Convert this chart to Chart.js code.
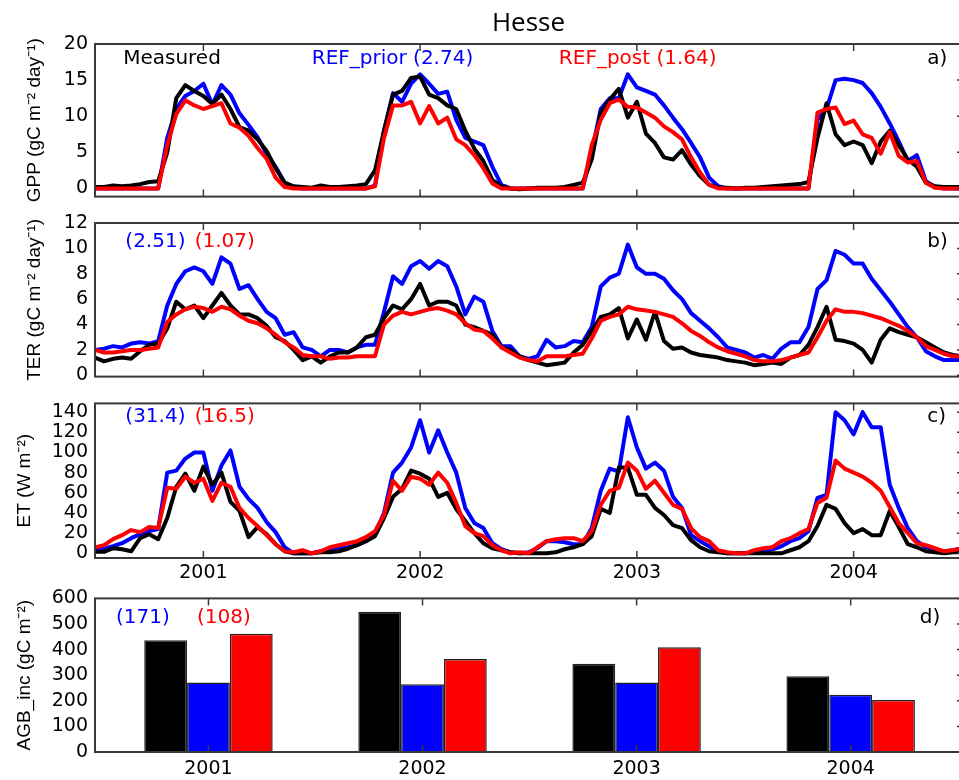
<!DOCTYPE html>
<html>
<head>
<meta charset="utf-8">
<title>Hesse</title>
<script src="https://cdn.jsdelivr.net/npm/chart.js@4.4.1/dist/chart.umd.min.js"></script>
<style>
  html, body { margin: 0; padding: 0; background: #fff; overflow: hidden; }
  body { position: relative; width: 959px; height: 780px; }
  canvas { position: absolute; left: 0; }
</style>
</head>
<body>
<canvas id="gpp-chart" width="962" height="215" style="top:0"></canvas>
<canvas id="ter-chart" width="962" height="200" style="top:195px"></canvas>
<canvas id="et-chart" width="962" height="200" style="top:385px"></canvas>
<canvas id="agb-chart" width="962" height="200" style="top:580px"></canvas>
<script>
// time axis: half-month steps from mid 2000
const startYear = 2000.5;
const stepYears = 1 / 24;
const yearTicks = [2001, 2002, 2003, 2004];

// GPP (gC m-2 day-1)
const gppMeasured = [
  0.2, 0.2, 0.4, 0.3, 0.4, 0.6, 0.9, 1.0, 5.0, 12.5, 14.3, 13.5,
  12.8, 11.7, 13.0, 11.0, 8.5, 8.0, 6.8, 5.2, 2.8, 0.8, 0.3, 0.2,
  0.1, 0.4, 0.2, 0.2, 0.3, 0.4, 0.6, 2.5, 8.0, 13.0, 13.5, 15.3,
  15.5, 13.0, 12.5, 11.5, 11.0, 8.0, 5.5, 3.8, 1.2, 0.3, 0.0, -0.1,
  0.0, 0.1, 0.1, 0.1, 0.2, 0.5, 0.8, 4.0, 10.5, 12.3, 13.8, 9.8,
  12.0, 7.6, 6.3, 4.3, 4.0, 5.3, 3.3, 1.7, 0.5, 0.1, 0.1, 0.0,
  0.1, 0.1, 0.2, 0.3, 0.4, 0.5, 0.6, 0.9, 7.0, 11.8, 7.5, 6.0,
  6.5, 6.0, 3.5, 6.5, 8.0, 6.0, 4.0, 3.0, 0.8, 0.3, 0.2, 0.2,
  0.2
];
const gppPrior = [
  0, 0, 0, 0, 0, 0, 0, 0, 7.0, 11.0, 12.8, 13.5,
  14.5, 11.6, 14.3, 13.0, 10.4, 8.8, 7.1, 4.8, 3.0, 0.8, 0.1, 0,
  0, 0, 0, 0, 0, 0, 0, 0.4, 8.0, 13.2, 12.0, 14.5,
  15.8, 14.5, 13.1, 13.4, 9.5, 7.0, 6.5, 6.0, 3.0, 0.5, 0, 0,
  0, 0, 0, 0, 0, 0, 0, 5.0, 11.0, 12.5, 12.5, 15.8,
  14.0, 13.5, 13.0, 11.5, 9.8, 8.2, 6.3, 4.3, 1.5, 0.3, 0, 0,
  0, 0, 0, 0, 0, 0, 0, 0, 9.5, 11.0, 15.0, 15.2,
  15.0, 14.6, 13.2, 11.3, 9.0, 6.5, 3.8, 4.6, 1.0, 0.2, 0, 0,
  0
];
const gppPost = [
  0, 0, 0, 0, 0, 0, 0, 0, 6.0, 10.3, 12.2, 11.5,
  11.0, 11.4, 11.8, 9.0, 8.4, 7.3, 5.6, 4.1, 1.5, 0.2, 0, 0,
  0, 0, 0, 0, 0, 0, 0, 0.3, 7.0, 11.5, 11.5, 12.0,
  9.0, 11.4, 9.0, 9.8, 6.8, 6.0, 4.6, 2.8, 0.7, 0, 0, 0,
  0, 0, 0, 0, 0, 0, 0, 6.0, 9.5, 11.8, 12.3, 11.3,
  11.2, 10.5, 9.8, 8.6, 7.8, 6.8, 4.3, 2.2, 0.5, 0, 0, 0,
  0, 0, 0, 0, 0, 0, 0, 0, 10.5, 11.0, 11.2, 8.9,
  9.4, 7.5, 7.0, 4.8, 7.8, 4.5, 3.6, 3.8, 0.8, 0.1, 0, 0,
  0
];

// TER (gC m-2 day-1)
const terMeasured = [
  1.4, 1.1, 1.3, 1.4, 1.3, 1.9, 2.4, 2.5, 3.7, 5.8, 5.2, 5.5,
  4.5, 5.5, 6.5, 5.5, 4.8, 4.8, 4.5, 3.9, 3.0, 2.7, 2.0, 1.2,
  1.5, 1.0, 1.5, 1.8, 1.8, 2.2, 3.0, 3.2, 4.5, 5.5, 5.2, 6.0,
  7.2, 5.5, 5.8, 5.8, 5.5, 4.0, 3.8, 3.5, 3.2, 2.2, 2.0, 1.5,
  1.2, 1.0, 0.8, 0.9, 1.0, 1.8, 2.4, 3.5, 4.6, 4.8, 5.3, 2.9,
  4.4, 2.8, 5.0, 2.7, 2.1, 2.2, 1.8, 1.6, 1.5, 1.4, 1.2, 1.1,
  1.0, 0.8, 0.9, 1.0, 0.9, 1.4, 1.6, 2.4, 3.8, 5.4, 2.8, 2.7,
  2.5, 2.0, 1.0, 2.8, 3.7, 3.4, 3.2, 3.0, 2.6, 2.2, 1.8, 1.6,
  1.5
];
const terPrior = [
  2.0, 2.1, 2.3, 2.2, 2.5, 2.6, 2.5, 2.7, 5.5, 7.2, 8.2, 8.5,
  8.2, 7.2, 9.3, 8.8, 6.8, 7.1, 6.0, 5.0, 4.5, 3.2, 3.4, 2.2,
  2.0, 1.5, 2.0, 2.0, 1.8, 2.2, 2.4, 2.4, 5.0, 7.8, 7.2, 8.6,
  9.0, 8.4, 9.0, 8.6, 7.0, 4.8, 6.2, 5.8, 3.5, 2.3, 2.3, 1.5,
  1.3, 1.5, 2.8, 2.2, 2.3, 2.7, 2.6, 3.8, 7.0, 7.7, 8.0, 10.3,
  8.5, 8.0, 8.0, 7.6, 6.7, 6.0, 4.9, 4.3, 3.7, 3.0, 2.2, 2.0,
  1.8, 1.4, 1.6, 1.3, 2.1, 2.6, 2.6, 3.8, 6.8, 7.5, 9.8, 9.5,
  8.8, 8.8, 7.6, 6.7, 5.8, 4.8, 3.8, 3.0, 1.9, 1.5, 1.2, 1.2,
  1.2
];
const terPost = [
  2.0, 1.8, 1.8, 1.9, 2.0, 2.0, 2.1, 2.2, 4.2, 4.8, 5.2, 5.4,
  5.3, 5.0, 5.4, 5.2, 4.7, 4.3, 4.1, 3.7, 3.2, 2.6, 2.2, 1.6,
  1.5, 1.5, 1.3, 1.4, 1.4, 1.5, 1.5, 1.5, 4.0, 4.7, 5.0, 4.8,
  5.0, 5.2, 5.3, 5.1, 4.8, 4.1, 3.6, 3.5, 2.9, 2.2, 1.8, 1.4,
  1.2, 1.1, 1.5, 1.5, 1.5, 1.6, 1.7, 2.9, 4.3, 4.6, 4.8, 5.4,
  5.2, 5.1, 5.0, 4.8, 4.6, 4.1, 3.5, 3.1, 2.6, 2.2, 1.9, 1.7,
  1.5, 1.2, 1.1, 1.1, 1.2, 1.4, 1.6, 1.8, 3.0, 4.3, 5.2, 5.0,
  5.0, 4.9, 4.7, 4.5, 4.2, 3.9, 3.5, 3.0, 2.3, 2.0, 1.7, 1.5,
  1.5
];

// ET (W m-2)
const etMeasured = [
  1.5, 1.5, 5, 4, 2, 15, 19, 14, 35, 66, 79, 62,
  86, 68, 80, 51, 42, 16, 26, 19, 9, 2, 0, 0,
  0, 1, 1, 2, 4.5, 8, 12, 17, 35, 56, 64, 82,
  79, 74, 56, 60, 44, 32, 20, 10, 5, 3, 1, 0,
  0, 0, 0, 1, 4, 6, 9, 17, 44, 40, 85, 85,
  58, 58, 45, 38, 28, 25, 13, 6, 2, 1, 0, 0,
  0, 0, 0, 0, 0, 3, 6, 12, 27, 48, 44, 30,
  20, 24, 18, 18, 42, 26, 9, 6, 2, 1, 0, 1,
  1
];
const etPrior = [
  4.5, 4.5, 7, 10, 15, 19, 22, 24, 80, 82, 94, 100,
  100, 62, 87, 102, 66, 54, 45, 31, 21, 6, 0, 0,
  0, 2, 4, 5, 6, 8, 12, 20, 40, 80, 90, 105,
  132, 100, 122, 100, 80, 45, 30, 25, 10, 4, 1, 0,
  1, 5, 12, 12, 11, 9, 9, 25, 62, 84, 81, 135,
  105, 84, 90, 82, 56, 45, 18, 12, 7, 2, 0, 0,
  0, 1, 2, 4, 7, 12, 15, 22, 55, 58, 140, 132,
  118, 140, 125, 125, 68, 45, 25, 12, 6, 4, 2, 3,
  5
];
const etPost = [
  6, 8, 14, 18, 23, 21, 26, 25, 65, 64, 76, 70,
  74, 52, 70, 66, 45, 35, 27, 18, 9, 2, 1, 3,
  0, 2, 6, 8, 10, 12, 16, 22, 38, 72, 62, 76,
  74, 68, 80, 70, 50, 27, 20, 17, 8, 3, 0, 1,
  0, 6, 12, 14, 15, 15, 12, 22, 48, 62, 65, 90,
  82, 64, 72, 60, 48, 44, 25, 16, 12, 3, 1, 0,
  0, 3, 5, 6, 12, 15, 20, 24, 50, 55, 92, 84,
  80, 76, 70, 62, 46, 30, 20, 10, 8, 5, 2, 3,
  5
];

// AGB_inc (gC m-2), yearly
const agbYears = [2001, 2002, 2003, 2004];
const agbMeasured = [437, 548, 345, 296];
const agbPrior = [271, 265, 271, 224];
const agbPost = [462, 363, 409, 203];

const gppTicks = [0, 5, 10, 15, 20];
const terTicks = [0, 2, 4, 6, 8, 10, 12];
const etTicks = [0, 20, 40, 60, 80, 100, 120, 140];
const agbTicks = [0, 100, 200, 300, 400, 500, 600];

const BLACK = '#000000';
const BLUE = '#0000ff';
const RED = '#ff0000';
const FRAME = '#3a3a3a';

Chart.defaults.animation = false;
Chart.defaults.color = '#000';
Chart.defaults.font.family = '"DejaVu Sans", sans-serif';
Chart.defaults.plugins.legend.display = false;
Chart.defaults.plugins.tooltip.enabled = false;
Chart.defaults.elements.point.radius = 0;
Chart.defaults.elements.line.borderWidth = 4;
Chart.defaults.elements.line.borderJoinStyle = 'round';
Chart.defaults.elements.line.borderCapStyle = 'round';

// box round the plot with inward ticks
const framePlugin = {
  id: 'frame',
  afterDatasetsDraw(chart) {
    const { ctx, chartArea: a, scales: { x, y } } = chart;
    ctx.save();
    ctx.strokeStyle = FRAME;
    ctx.lineWidth = 2;
    ctx.strokeRect(a.left, a.top, a.right - a.left, a.bottom - a.top);
    ctx.lineWidth = 1.5;
    ctx.beginPath();
    x.ticks.forEach(t => {
      const px = x.getPixelForValue(t.value);
      ctx.moveTo(px, a.top);
      ctx.lineTo(px, a.top + 7);
      ctx.moveTo(px, a.bottom);
      ctx.lineTo(px, a.bottom - 7);
    });
    y.ticks.forEach(t => {
      const py = y.getPixelForValue(t.value);
      ctx.moveTo(a.right, py);
      ctx.lineTo(a.right - 5, py);
    });
    ctx.stroke();
    ctx.restore();
  }
};

// texts inside the panels, placed in data units
const notesPlugin = {
  id: 'notes',
  afterDraw(chart, args, opts) {
    const { ctx, scales: { x, y } } = chart;
    ctx.save();
    ctx.font = '20px "DejaVu Sans"';
    ctx.textBaseline = 'middle';
    ctx.textAlign = 'left';
    (opts.items || []).forEach(n => {
      ctx.fillStyle = n.color;
      ctx.fillText(n.text, x.getPixelForValue(n.x), y.getPixelForValue(n.y));
    });
    ctx.restore();
  }
};

Chart.register(framePlugin, notesPlugin);

function toPoints(values) {
  return values.map((v, i) => ({ x: startYear + i * stepYears, y: v }));
}

function lineSets(measured, prior, post) {
  // first dataset is drawn on top
  return [
    { label: 'REF_post', data: toPoints(post), borderColor: RED },
    { label: 'Measured', data: toPoints(measured), borderColor: BLACK },
    { label: 'REF_prior', data: toPoints(prior), borderColor: BLUE }
  ];
}

function panelOptions(o) {
  return {
    responsive: false,
    layout: { padding: { top: o.padTop, bottom: o.padBottom, left: 0, right: 0 } },
    plugins: {
      title: o.heading ? {
        display: true,
        text: o.heading,
        fullSize: false,
        color: '#000',
        font: { family: '"Open Sans", sans-serif', size: 26, weight: 'normal' },
        padding: { top: 0, bottom: 4.8 }
      } : { display: false },
      notes: { items: o.notes }
    },
    scales: {
      x: {
        type: 'linear',
        min: o.xMin,
        max: o.xMax,
        offset: false,
        afterBuildTicks: s => { s.ticks = yearTicks.map(v => ({ value: v })); },
        afterFit: s => { s.height = o.xHeight; },
        grid: { display: false, drawTicks: false, offset: false },
        border: { display: false },
        ticks: {
          display: o.xLabels,
          padding: o.xPad || 4,
          maxRotation: 0,
          autoSkip: false,
          font: { size: 19 },
          callback: v => String(v)
        }
      },
      y: {
        min: o.yMin,
        max: o.yMax,
        afterBuildTicks: s => { s.ticks = o.yTicks.map(v => ({ value: v })); },
        afterFit: s => { s.width = 95; },
        grid: { display: false, drawTicks: false },
        border: { display: false },
        ticks: { padding: 7, autoSkip: false, font: { size: 19 } },
        title: {
          display: true,
          text: o.yTitle,
          color: '#000',
          font: { family: '"Liberation Sans", sans-serif', size: 19 },
          padding: { top: o.titleGap, bottom: 0 }
        }
      }
    }
  };
}

new Chart(document.getElementById('gpp-chart'), {
  type: 'line',
  data: { datasets: lineSets(gppMeasured, gppPrior, gppPost) },
  options: panelOptions({
    heading: 'Hesse',
    padTop: 8, padBottom: 8,
    xMin: 2000.5, xMax: 2004.5, xHeight: 0, xLabels: false,
    yMin: -1.13, yMax: 20, yTicks: gppTicks,
    yTitle: 'GPP (gC m⁻² day⁻¹)', titleGap: 23.6,
    notes: [
      { text: 'Measured', x: 2000.63, y: 17.9, color: BLACK },
      { text: 'REF_prior (2.74)', x: 2001.5, y: 17.9, color: BLUE },
      { text: 'REF_post (1.64)', x: 2002.64, y: 17.9, color: RED },
      { text: 'a)', x: 2004.34, y: 17.9, color: BLACK }
    ]
  })
});

new Chart(document.getElementById('ter-chart'), {
  type: 'line',
  data: { datasets: lineSets(terMeasured, terPrior, terPost) },
  options: panelOptions({
    padTop: 28, padBottom: 11,
    xMin: 2000.5, xMax: 2004.5, xHeight: 0, xLabels: false,
    yMin: -0.1, yMax: 12, yTicks: terTicks,
    yTitle: 'TER (gC m⁻² day⁻¹)', titleGap: 23.6,
    notes: [
      { text: '(2.51)', x: 2000.64, y: 10.5, color: BLUE },
      { text: '(1.07)', x: 2000.96, y: 10.5, color: RED },
      { text: 'b)', x: 2004.34, y: 10.5, color: BLACK }
    ]
  })
});

new Chart(document.getElementById('et-chart'), {
  type: 'line',
  data: { datasets: lineSets(etMeasured, etPrior, etPost) },
  options: panelOptions({
    padTop: 9, padBottom: 0,
    xMin: 2000.5, xMax: 2004.5, xHeight: 27, xLabels: true, xPad: 4,
    yMin: -4.67, yMax: 148.7, yTicks: etTicks,
    yTitle: 'ET (W m⁻²)', titleGap: 13.6,
    notes: [
      { text: '(31.4)', x: 2000.64, y: 135.6, color: BLUE },
      { text: '(16.5)', x: 2000.96, y: 135.6, color: RED },
      { text: 'c)', x: 2004.34, y: 135.6, color: BLACK }
    ]
  })
});

const barStyle = { borderColor: '#222', borderWidth: 1.5, categoryPercentage: 0.6, barPercentage: 1.0 };

new Chart(document.getElementById('agb-chart'), {
  type: 'bar',
  data: {
    datasets: [
      { label: 'Measured', data: agbYears.map((yr, i) => ({ x: yr, y: agbMeasured[i] })), backgroundColor: BLACK, ...barStyle },
      { label: 'REF_prior', data: agbYears.map((yr, i) => ({ x: yr, y: agbPrior[i] })), backgroundColor: BLUE, ...barStyle },
      { label: 'REF_post', data: agbYears.map((yr, i) => ({ x: yr, y: agbPost[i] })), backgroundColor: RED, ...barStyle }
    ]
  },
  options: panelOptions({
    padTop: 9, padBottom: 0,
    xMin: 2000.47, xMax: 2004.52, xHeight: 28, xLabels: true, xPad: 6,
    yMin: 0, yMax: 600, yTicks: agbTicks,
    yTitle: 'AGB_inc (gC m⁻²)', titleGap: 13.6,
    notes: [
      { text: '(171)', x: 2000.568, y: 526, color: BLUE },
      { text: '(108)', x: 2000.946, y: 526, color: RED },
      { text: 'd)', x: 2004.323, y: 526, color: BLACK }
    ]
  })
});
</script>
</body>
</html>
